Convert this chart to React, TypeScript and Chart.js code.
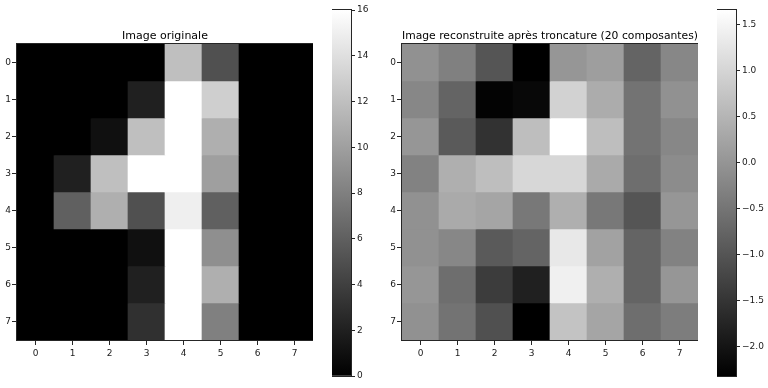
import React, { useEffect, useRef } from 'react';
import { Chart, registerables } from 'chart.js';

Chart.register(...registerables);

const columnLabels = ['0', '1', '2', '3', '4', '5', '6', '7'];
const rowTicks = [0, 1, 2, 3, 4, 5, 6, 7];

const originalImage = [
  [0, 0, 0, 0, 12, 5, 0, 0],
  [0, 0, 0, 2, 16, 13, 0, 0],
  [0, 0, 1, 12, 16, 11, 0, 0],
  [0, 2, 12, 16, 16, 10, 0, 0],
  [0, 6, 11, 5, 15, 6, 0, 0],
  [0, 0, 0, 1, 16, 9, 0, 0],
  [0, 0, 0, 2, 16, 11, 0, 0],
  [0, 0, 0, 3, 16, 8, 0, 0],
];

const reconstructedImage = [
  [-0.06, -0.32, -0.99, -2.32, 0.02, 0.15, -0.76, -0.21],
  [-0.21, -0.76, -2.27, -2.2, 0.96, 0.36, -0.53, -0.06],
  [0.02, -0.92, -1.54, 0.65, 1.66, 0.65, -0.53, -0.21],
  [-0.29, 0.41, 0.65, 1.04, 1.04, 0.33, -0.6, -0.14],
  [-0.06, 0.33, 0.26, -0.45, 0.41, -0.45, -0.99, 0.02],
  [-0.06, -0.21, -0.92, -0.76, 1.3, 0.21, -0.76, -0.29],
  [0.02, -0.6, -1.38, -1.82, 1.43, 0.41, -0.76, 0.02],
  [-0.06, -0.53, -1.07, -2.32, 0.72, 0.26, -0.6, -0.37],
];

const originalRange = [0, 16];
const reconstructedRange = [-2.32, 1.66];
const originalBarTicks = [0, 2, 4, 6, 8, 10, 12, 14, 16];
const reconstructedBarTicks = [-2, -1.5, -1, -0.5, 0, 0.5, 1, 1.5];
const originalTitle = 'Image originale';
const reconstructedTitle = 'Image reconstruite après troncature (20 composantes)';

const FONT = 'DejaVu Sans';
const TEXT = '#1a1a1a';
const FRAME = '#262626';

function grayFor(v: number, range: number[]) {
  let t = (v - range[0]) / (range[1] - range[0]);
  t = Math.max(0, Math.min(1, t));
  const g = Math.round(t * 255);
  return `rgb(${g},${g},${g})`;
}

const framePlugin = {
  id: 'frame',
  afterDatasetsDraw(chart: any) {
    const { ctx, chartArea: a } = chart;
    ctx.save();
    ctx.strokeStyle = FRAME;
    ctx.lineWidth = 1;
    ctx.strokeRect(a.left - 0.5, a.top - 0.5, a.right - a.left + 1, a.bottom - a.top + 1);
    ctx.restore();
  },
};

function Heatmap(props: { values: number[][]; range: number[]; title: string; left: number; width: number }) {
  const ref = useRef<HTMLCanvasElement | null>(null);
  useEffect(() => {
    if (!ref.current) return;
    const { values, range, title } = props;
    const chart = new Chart(ref.current, {
      type: 'bar',
      data: {
        labels: columnLabels,
        datasets: values.map((row, r) => ({
          data: row.map(() => [r - 0.5, r + 0.5]),
          backgroundColor: row.map((v) => grayFor(v, range)),
          borderWidth: 0,
          barPercentage: 1,
          categoryPercentage: 1,
          grouped: false,
        })),
      } as any,
      options: {
        responsive: false,
        animation: false,
        devicePixelRatio: 1,
        layout: { padding: 0 },
        plugins: {
          legend: { display: false },
          tooltip: { enabled: false },
          title: {
            display: true,
            text: title,
            fullSize: false,
            color: '#000',
            font: { family: FONT, size: 11, weight: 'normal', lineHeight: 1 },
            padding: { top: 30.5, bottom: 2.5 },
          },
        },
        scales: {
          x: {
            type: 'category',
            offset: true,
            grid: { display: true, drawOnChartArea: false, offset: false, tickLength: 5, color: FRAME },
            border: { display: false },
            ticks: { color: TEXT, font: { family: FONT, size: 9 }, padding: 3, maxRotation: 0 },
            afterFit: (s: any) => {
              s.height = 48;
            },
          },
          y: {
            type: 'linear',
            reverse: true,
            min: -0.5,
            max: 7.5,
            afterBuildTicks: (s: any) => {
              s.ticks = rowTicks.map((v) => ({ value: v }));
            },
            grid: { display: true, drawOnChartArea: false, tickLength: 5, color: FRAME },
            border: { display: false },
            ticks: {
              color: TEXT,
              font: { family: FONT, size: 9 },
              padding: 1,
              callback: (v: any) => String(v),
            },
            afterFit: (s: any) => {
              s.width = 17;
            },
          },
        },
      } as any,
      plugins: [framePlugin],
    });
    return () => chart.destroy();
  }, []);
  return (
    <canvas
      ref={ref}
      width={props.width}
      height={388}
      style={{ position: 'absolute', left: props.left, top: 0, width: props.width, height: 388 }}
    />
  );
}

function Colorbar(props: { range: number[]; ticks: number[]; decimals: number; left: number; width: number }) {
  const ref = useRef<HTMLCanvasElement | null>(null);
  useEffect(() => {
    if (!ref.current) return;
    const { range, ticks, decimals, width } = props;
    const chart = new Chart(ref.current, {
      type: 'bar',
      data: {
        labels: ['cb'],
        datasets: [
          {
            data: [[range[0], range[1]]],
            backgroundColor: (ctx: any) => {
              const a = ctx.chart.chartArea;
              if (!a) return '#888';
              const g = ctx.chart.ctx.createLinearGradient(0, a.bottom, 0, a.top);
              g.addColorStop(0, '#000');
              g.addColorStop(1, '#fff');
              return g;
            },
            borderWidth: 0,
            barPercentage: 1,
            categoryPercentage: 1,
          },
        ],
      } as any,
      options: {
        responsive: false,
        animation: false,
        devicePixelRatio: 1,
        layout: { padding: { top: 10, bottom: 12, left: 0, right: 0 } },
        plugins: { legend: { display: false }, tooltip: { enabled: false } },
        scales: {
          x: { display: false },
          y: {
            type: 'linear',
            position: 'right',
            min: range[0],
            max: range[1],
            afterBuildTicks: (s: any) => {
              s.ticks = ticks.map((v) => ({ value: v }));
            },
            grid: { display: true, drawOnChartArea: false, tickLength: 4, color: FRAME },
            border: { display: false },
            ticks: {
              color: TEXT,
              font: { family: FONT, size: 9 },
              padding: 2,
              callback: (v: any) => Number(v).toFixed(decimals).replace('-', '\u2212'),
            },
            afterFit: (s: any) => {
              s.width = width - 19;
            },
          },
        },
      } as any,
      plugins: [framePlugin],
    });
    return () => chart.destroy();
  }, []);
  return (
    <canvas
      ref={ref}
      width={props.width}
      height={388}
      style={{ position: 'absolute', left: props.left, top: 0, width: props.width, height: 388 }}
    />
  );
}

export default function App() {
  return (
    <div style={{ position: 'fixed', left: 0, top: 0, width: 768, height: 388, background: '#fff', overflow: 'hidden' }}>
      <Heatmap values={originalImage} range={originalRange} title={originalTitle} left={0} width={313} />
      <Colorbar range={originalRange} ticks={originalBarTicks} decimals={0} left={332} width={52} />
      <Heatmap values={reconstructedImage} range={reconstructedRange} title={reconstructedTitle} left={385} width={313} />
      <Colorbar range={reconstructedRange} ticks={reconstructedBarTicks} decimals={1} left={717} width={51} />
    </div>
  );
}
